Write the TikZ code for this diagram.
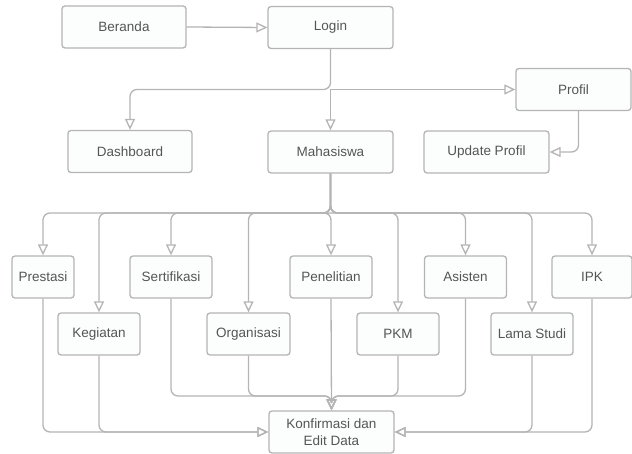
\documentclass[tikz,border=0pt]{standalone}
\usepackage{fontspec}
\setmainfont{Liberation Sans}
\usepackage{tikz}
\usetikzlibrary{arrows.meta}
\definecolor{linegray}{HTML}{B4B4B4}
\definecolor{textgray}{HTML}{555555}
\definecolor{boxfill}{HTML}{FCFDFD}
\tikzset{
	menubox/.style={draw=linegray, fill=boxfill, line width=1.3pt, rounded corners=3pt,
		minimum height=42pt, inner sep=0pt, align=center, text=textgray,
		font=\fontsize{13.5}{17}\selectfont},
	flow/.style={draw=linegray, line width=1.3pt, rounded corners=7pt,
		-{Triangle[open, length=11pt, width=10pt, line width=1.3pt]}}
}
\begin{document}
\begin{tikzpicture}[x=1pt, y=-1pt]
				\useasboundingbox (0,0) rectangle (632,454);
				% top row
				\node[menubox, minimum width=124pt] (beranda) at (124,27) {Beranda};
				\node[menubox, minimum width=125pt] (login) at (330.5,27.5) {Login};
				\node[menubox, minimum width=115pt] (profil) at (573.5,89.5) {Profil};
				\node[menubox, minimum width=124pt] (dashboard) at (130,151.5) {Dashboard};
				\node[menubox, minimum width=125pt] (mahasiswa) at (330.5,152) {Mahasiswa};
				\node[menubox, minimum width=125pt] (update) at (486.5,152) {Update Profil};
				% data menus
				\node[menubox, minimum width=62pt] (prestasi) at (43,277) {Prestasi};
				\node[menubox, minimum width=82pt] (sertifikasi) at (171,277) {Sertifikasi};
				\node[menubox, minimum width=82pt] (penelitian) at (331,277) {Penelitian};
				\node[menubox, minimum width=82pt] (asisten) at (465.5,277) {Asisten};
				\node[menubox, minimum width=80pt] (ipk) at (592,277) {IPK};
				\node[menubox, minimum width=82pt] (kegiatan) at (99,334) {Kegiatan};
				\node[menubox, minimum width=83pt] (organisasi) at (248.5,334) {Organisasi};
				\node[menubox, minimum width=82pt] (pkm) at (398,334) {PKM};
				\node[menubox, minimum width=82pt] (lama) at (532,334) {Lama Studi};
				\node[menubox, minimum width=125pt] (konfirmasi) at (331.5,432) {Konfirmasi dan\\Edit Data};
				\coordinate (lsplit) at (330.5,89.5);
				\coordinate (msplit) at (330.5,213);
				\coordinate (kjoin) at (331.5,396);
				\draw[flow] (beranda.east) -- (login.west);
				\draw[flow] (login.south) -- (lsplit) -| (dashboard.north);
				\draw[flow] (lsplit) -- (mahasiswa.north);
				\draw[flow] (lsplit) -- (profil.west);
				\draw[flow] ([xshift=5pt]profil.south) |- (update.east);
				% mahasiswa to each menu
				\foreach \m in {prestasi,kegiatan,sertifikasi,organisasi,penelitian,pkm,asisten,lama,ipk}
					\draw[flow] (mahasiswa.south) -- (msplit) -| (\m.north);
				% menus to konfirmasi
				\foreach \m in {prestasi,kegiatan}
					\draw[flow] (\m.south) |- (konfirmasi.west);
				\foreach \m in {lama,ipk}
					\draw[flow] (\m.south) |- (konfirmasi.east);
				\foreach \m in {sertifikasi,organisasi,pkm,asisten}
					\draw[flow] (\m.south) |- (kjoin) -- (konfirmasi.north);
				\draw[flow] (penelitian.south) -- (konfirmasi.north);
\end{tikzpicture}
\end{document}
